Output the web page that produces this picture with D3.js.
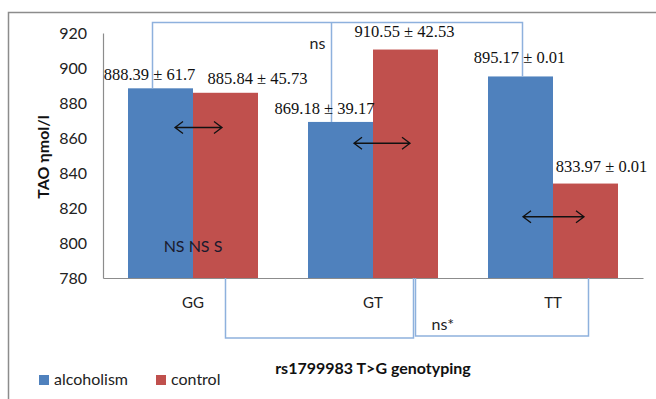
<!DOCTYPE html>
<html>
<head>
<meta charset="utf-8">
<script src="https://cdn.jsdelivr.net/npm/d3@7"></script>
<style>
  body { margin: 0; background: #fff; }
  svg { display: block; }
</style>
</head>
<body>
<div id="chart"></div>
<script>
const genotypes = ['GG', 'GT', 'TT'];
const groups = ['alcoholism', 'control'];
const alcoholism = [888.39, 869.18, 895.17];
const control = [885.84, 910.55, 833.97];
const alcoholismSD = ['61.7', '39.17', '0.01'];
const controlSD = ['45.73', '42.53', '0.01'];
const yTicks = [780, 800, 820, 840, 860, 880, 900, 920];
const colors = { alcoholism: '#4F81BD', control: '#C0504D' };

const width = 656, height = 399;
const margin = { top: 33, right: 13, bottom: 121, left: 103 };
const innerW = width - margin.left - margin.right;
const innerH = height - margin.top - margin.bottom;

const svg = d3.select('#chart').append('svg')
  .attr('width', width).attr('height', height);

// outer chart frame (top + left edges only visible)
svg.append('path')
  .attr('d', `M8.5,${height}V12.5H${width}`)
  .attr('fill', 'none').attr('stroke', '#8c8c8c').attr('stroke-width', 1.5);

const g = svg.append('g').attr('transform', `translate(${margin.left},${margin.top})`);

const x = d3.scaleBand().domain(genotypes).range([0, innerW]).paddingInner(0.2778).paddingOuter(0.1389);
const xSub = d3.scaleBand().domain(groups).range([0, x.bandwidth()]);
const y = d3.scaleLinear().domain([780, 920]).range([innerH, 0]);

const rows = genotypes.map((gt, i) => ({
  gt,
  alcoholism: alcoholism[i], control: control[i],
  alcoholismSD: alcoholismSD[i], controlSD: controlSD[i]
}));

// bars
rows.forEach(r => {
  groups.forEach(k => {
    g.append('rect')
      .attr('x', x(r.gt) + xSub(k))
      .attr('y', y(r[k]))
      .attr('width', xSub.bandwidth())
      .attr('height', innerH - y(r[k]))
      .attr('fill', colors[k]);
  });
});

// axes
const yAxis = g.append('g').call(d3.axisLeft(y).tickValues(yTicks).tickSize(0).tickPadding(16));
yAxis.select('.domain').attr('stroke', '#8c8c8c').attr('stroke-width', 1.2);
yAxis.selectAll('text').attr('font-family', 'Lato, sans-serif').attr('font-size', 16).attr('fill', '#222');

const xAxis = g.append('g').attr('transform', `translate(0,${innerH})`)
  .call(d3.axisBottom(x).tickSize(0).tickPadding(19));
xAxis.select('.domain').attr('stroke', '#8c8c8c').attr('stroke-width', 1.2);
xAxis.selectAll('text').attr('font-family', 'Lato, sans-serif').attr('font-size', 15).attr('fill', '#222');

// blue comparison brackets
const cx = (gt, k) => x(gt) + xSub(k) + xSub.bandwidth() / 2;
const bracket = '#8EB1DD';
const topY = y(926);
g.append('path')
  .attr('d', `M${cx('GG', 'alcoholism') - 8},${y(alcoholism[0])}V${topY}H${cx('TT', 'alcoholism') + 2}V${y(alcoholism[2])}` +
             `M${cx('GT', 'alcoholism') - 9},${topY}V${y(alcoholism[1])}`)
  .attr('fill', 'none').attr('stroke', bracket).attr('stroke-width', 1.5);
const botY = innerH + 60;
g.append('path')
  .attr('d', `M${cx('GG', 'control')},${innerH}V${botY}H${cx('GT', 'control') + 8}V${innerH}`)
  .attr('fill', 'none').attr('stroke', bracket).attr('stroke-width', 1.5);
g.append('path')
  .attr('d', `M${cx('GT', 'control') + 10},${innerH}V${botY - 2}H${cx('TT', 'control') + 3}V${innerH}`)
  .attr('fill', 'none').attr('stroke', bracket).attr('stroke-width', 1.5);

// double arrows
const arrowY = [866, 857, 815];
const arrowDx = [[-18, 29], [-19, 37], [-30, 31]];
rows.forEach((r, i) => {
  const xc = x(r.gt) + xSub.bandwidth();
  const x0 = xc + arrowDx[i][0], x1 = xc + arrowDx[i][1], yy = y(arrowY[i]);
  g.append('path')
    .attr('d', `M${x0},${yy}H${x1}M${x0 + 8},${yy - 6}L${x0},${yy}L${x0 + 8},${yy + 6}M${x1 - 8},${yy - 6}L${x1},${yy}L${x1 - 8},${yy + 6}`)
    .attr('fill', 'none').attr('stroke', '#111').attr('stroke-width', 1.3);
});

// value labels
const labelOffsets = {
  alcoholism: [[-11, 80], [-16, 114], [-1, 63]],
  control: [[32, 84], [-1, 37], [16, 172]]
};
rows.forEach((r, i) => {
  groups.forEach(k => {
    g.append('text')
      .attr('x', cx(r.gt, k) + labelOffsets[k][i][0])
      .attr('y', labelOffsets[k][i][1] - margin.top)
      .attr('text-anchor', 'middle')
      .attr('font-family', '"Liberation Serif", "Times New Roman", serif')
      .attr('font-size', 16.5)
      .attr('fill', '#111')
      .text(`${r[k].toFixed(2)} ± ${r[k + 'SD']}`);
  });
});

// annotations
const annoFont = 'Lato, sans-serif';
g.append('text').attr('x', cx('GT', 'alcoholism') - 31).attr('y', 49 - margin.top)
  .attr('font-family', annoFont).attr('font-size', 16).attr('fill', '#222').text('ns');
g.append('text').attr('x', cx('GT', 'control') + 26).attr('y', 330 - margin.top)
  .attr('font-family', annoFont).attr('font-size', 16).attr('fill', '#222').text('ns*');
g.append('text').attr('x', x('GG') + xSub.bandwidth()).attr('y', 252 - margin.top)
  .attr('text-anchor', 'middle')
  .attr('font-family', annoFont).attr('font-size', 16).attr('fill', '#1a1a2e').text('NS NS S');

// axis titles
svg.append('text')
  .attr('transform', 'translate(49,157) rotate(-90)')
  .attr('text-anchor', 'middle')
  .attr('font-family', annoFont).attr('font-weight', 'bold').attr('font-size', 16).attr('fill', '#111')
  .text('TAO ηmol/l');
svg.append('text')
  .attr('x', margin.left + x('GT') + x.bandwidth() / 2).attr('y', 374)
  .attr('text-anchor', 'middle')
  .attr('font-family', annoFont).attr('font-weight', 'bold').attr('font-size', 16).attr('fill', '#111')
  .text('rs1799983 T>G genotyping');

// legend
const legend = svg.append('g').attr('transform', 'translate(39,375)');
const legendX = [0, 117];
groups.forEach((k, i) => {
  legend.append('rect').attr('x', legendX[i]).attr('y', 0).attr('width', 10).attr('height', 10).attr('fill', colors[k]);
  legend.append('text').attr('x', legendX[i] + 15).attr('y', 10)
    .attr('font-family', annoFont).attr('font-size', 16).attr('fill', '#222').text(k);
});
</script>
</body>
</html>
